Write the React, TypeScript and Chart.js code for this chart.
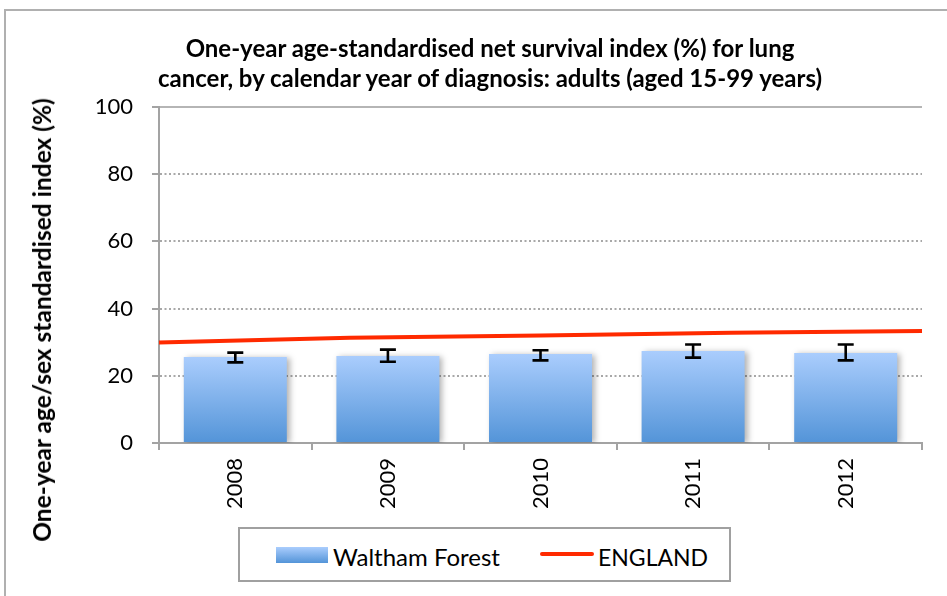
import React, { useEffect, useRef } from "react";
import { Chart, registerables } from "chart.js";

Chart.register(...registerables);

const years = ["2008", "2009", "2010", "2011", "2012"];
const walthamForest = [25.6, 25.9, 26.5, 27.4, 26.8];
const ciLower = [24.0, 24.2, 24.6, 25.4, 24.6];
const ciUpper = [26.9, 27.8, 27.6, 29.3, 29.3];
const england = [29.9, 31.3, 32.0, 32.8, 33.3];
const yTicks = [0, 20, 40, 60, 80, 100];

const titleLines = [
  "One-year age-standardised net survival index (%) for lung",
  "cancer, by calendar year of diagnosis: adults (aged 15-99 years)",
];
const yTitle = "One-year age/sex standardised index (%)";
const seriesNames = ["Waltham Forest", "ENGLAND"];

const FONT = "Lato, 'Open Sans', sans-serif";
const BAR_TOP = "#aacdfd";
const BAR_BOTTOM = "#5394d8";
const RED = "#ff2a00";
const GRAY = "#a3a3a3";

const shadowPlugin = {
  id: "barShadow",
  beforeDatasetDraw(chart: any, args: any) {
    if (args.index === 0) {
      const ctx = chart.ctx;
      ctx.save();
      ctx.shadowColor = "rgba(0,0,0,0.30)";
      ctx.shadowBlur = 6;
      ctx.shadowOffsetX = 3;
      ctx.shadowOffsetY = 1;
    }
  },
  afterDatasetDraw(chart: any, args: any) {
    if (args.index === 0) {
      const ctx = chart.ctx;
      ctx.restore();
      const meta = chart.getDatasetMeta(0);
      const ys = chart.scales.y;
      ctx.save();
      ctx.strokeStyle = "#000";
      ctx.lineWidth = 2.6;
      ctx.lineCap = "butt";
      meta.data.forEach((bar: any, i: number) => {
        const x = bar.x;
        const yl = ys.getPixelForValue(ciLower[i]);
        const yh = ys.getPixelForValue(ciUpper[i]);
        ctx.beginPath();
        ctx.moveTo(x, yl);
        ctx.lineTo(x, yh);
        ctx.moveTo(x - 8, yl);
        ctx.lineTo(x + 8, yl);
        ctx.moveTo(x - 8, yh);
        ctx.lineTo(x + 8, yh);
        ctx.stroke();
      });
      ctx.restore();
    }
  },
};

export default function App() {
  const ref = useRef<HTMLCanvasElement | null>(null);

  useEffect(() => {
    document.body.style.margin = "0";
    const canvas = ref.current!;
    const chart = new Chart(canvas, {
      type: "bar",
      data: {
        labels: years,
        datasets: [
          {
            type: "bar",
            label: seriesNames[0],
            data: walthamForest,
            backgroundColor: (c: any) => {
              const ch = c.chart;
              if (!ch.chartArea || c.parsed == null) return BAR_BOTTOM;
              const ys = ch.scales.y;
              const g = ch.ctx.createLinearGradient(
                0,
                ys.getPixelForValue(c.parsed.y),
                0,
                ys.getPixelForValue(0)
              );
              g.addColorStop(0, BAR_TOP);
              g.addColorStop(1, BAR_BOTTOM);
              return g;
            },
            borderWidth: 0,
            grouped: false,
            barPercentage: 0.675,
            categoryPercentage: 1,
            order: 2,
          } as any,
          {
            type: "line",
            label: seriesNames[1],
            data: england,
            xAxisID: "x2",
            borderColor: RED,
            borderWidth: 4,
            pointRadius: 0,
            tension: 0,
            order: 1,
          } as any,
        ],
      },
      options: {
        responsive: false,
        animation: false,
        devicePixelRatio: 1,
        layout: { padding: { top: 107, right: 25, left: 0, bottom: 0 } },
        plugins: {
          legend: { display: false },
          title: { display: false },
          tooltip: { enabled: false },
        },
        scales: {
          x: {
            type: "category",
            offset: true,
            grid: {
              offset: true,
              drawOnChartArea: false,
              drawTicks: true,
              tickLength: 7,
              color: GRAY,
              lineWidth: 2,
            },
            border: { color: GRAY, width: 2 },
            ticks: {
              minRotation: 90,
              maxRotation: 90,
              padding: 8,
              color: "#000",
              font: { family: FONT, size: 22 },
            },
            afterFit: (s: any) => {
              s.height = 153;
            },
          },
          x2: {
            type: "category",
            offset: false,
            display: false,
          },
          y: {
            min: 0,
            max: 100,
            afterBuildTicks: (s: any) => {
              s.ticks = yTicks.map((v) => ({ value: v }));
            },
            ticks: {
              padding: 19,
              color: "#000",
              font: { family: FONT, size: 22 },
            },
            grid: {
              color: (c: any) => (c.tick && c.tick.value === 100 ? "#b5b5b5" : "#a8a8a8"),
              lineWidth: 2,
              drawTicks: true,
              tickLength: 7,
              tickColor: GRAY,
              tickWidth: 2,
            },
            border: {
              color: GRAY,
              width: 2,
              dash: (c: any) => (c.tick && c.tick.value === 100 ? [] : [2, 2.5]),
            },
            afterFit: (s: any) => {
              s.width = 159;
            },
          },
        },
      } as any,
      plugins: [shadowPlugin],
    });
    return () => chart.destroy();
  }, []);

  return (
    <div
      style={{
        position: "relative",
        width: 947,
        height: 596,
        overflow: "hidden",
        background: "#fff",
        fontFamily: FONT,
      }}
    >
      <div
        style={{
          position: "absolute",
          left: 4,
          top: 9,
          width: 1000,
          height: 700,
          borderTop: "2px solid #b0b0b0",
          borderLeft: "2px solid #b0b0b0",
        }}
      />
      <canvas
        ref={ref}
        width={947}
        height={596}
        style={{ position: "absolute", left: 0, top: 0, width: 947, height: 596 }}
      />
      <div
        style={{
          position: "absolute",
          left: 90,
          top: 33,
          width: 800,
          textAlign: "center",
          fontWeight: 700,
          fontSize: 24,
          lineHeight: "30px",
          color: "#000",
          whiteSpace: "nowrap",
        }}
      >
        <div>{titleLines[0]}</div>
        <div>{titleLines[1]}</div>
      </div>
      <div
        style={{
          position: "absolute",
          left: 42,
          top: 320,
          transform: "translate(-50%, -50%) rotate(-90deg)",
          fontWeight: 700,
          fontSize: 24.5,
          lineHeight: "28px",
          whiteSpace: "nowrap",
          color: "#000",
        }}
      >
        {yTitle}
      </div>
      <div
        style={{
          position: "absolute",
          left: 238,
          top: 527,
          width: 493,
          height: 55,
          boxSizing: "border-box",
          border: "2px solid #a0a0a0",
          background: "#fff",
        }}
      />
      <div
        style={{
          position: "absolute",
          left: 276,
          top: 547,
          width: 52,
          height: 16,
          background: `linear-gradient(${BAR_TOP}, ${BAR_BOTTOM})`,
        }}
      />
      <div
        style={{
          position: "absolute",
          left: 333,
          top: 556.5 - 15,
          lineHeight: "30px",
          fontSize: 24,
          color: "#000",
          whiteSpace: "nowrap",
        }}
      >
        {seriesNames[0]}
      </div>
      <div
        style={{
          position: "absolute",
          left: 540,
          top: 551.5,
          width: 54,
          height: 4,
          borderRadius: 2,
          background: RED,
        }}
      />
      <div
        style={{
          position: "absolute",
          left: 598,
          top: 556.5 - 15,
          lineHeight: "30px",
          fontSize: 23,
          color: "#000",
          whiteSpace: "nowrap",
        }}
      >
        {seriesNames[1]}
      </div>
    </div>
  );
}
